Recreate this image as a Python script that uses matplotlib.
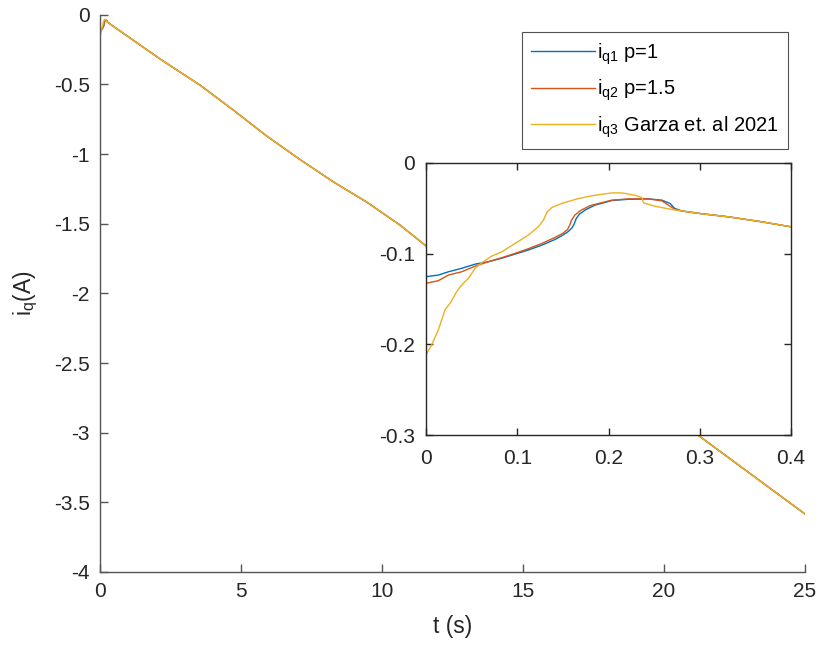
import matplotlib
matplotlib.use("Agg")
import matplotlib.pyplot as plt
import numpy as np

plt.rcParams['font.family'] = ['Liberation Sans', 'DejaVu Sans']
plt.rcParams['mathtext.fontset'] = 'custom'
plt.rcParams['mathtext.rm'] = 'Liberation Sans'
plt.rcParams['mathtext.it'] = 'Liberation Sans'

# ---- data: early transient (0 - 0.4 s), one per method ----
t_q1 = [0, 0.0135, 0.0245, 0.039, 0.054, 0.068, 0.083, 0.0976, 0.112, 0.127, 0.1415,
        0.150, 0.156, 0.160, 0.1625, 0.1645, 0.168, 0.175, 0.185, 0.2037, 0.222, 0.244,
        0.2585, 0.2676, 0.2724, 0.280, 0.300, 0.3316, 0.368, 0.400]
iq1 = [-0.1254, -0.1236, -0.120, -0.1162, -0.1115, -0.109, -0.105, -0.1005, -0.096,
       -0.0906, -0.0843, -0.0795, -0.0755, -0.0715, -0.0670, -0.0615, -0.0565, -0.0515,
       -0.0465, -0.0414, -0.0400, -0.0396, -0.0410, -0.0447, -0.0500, -0.0528, -0.0557,
       -0.0594, -0.0649, -0.0704]

t_q2 = [0, 0.0135, 0.0245, 0.039, 0.054, 0.068, 0.083, 0.0976, 0.112, 0.127, 0.1415,
        0.150, 0.155, 0.1575, 0.1595, 0.163, 0.170, 0.180, 0.2037, 0.222, 0.244, 0.2585,
        0.2658, 0.2731, 0.280, 0.300, 0.3316, 0.368, 0.400]
iq2 = [-0.1327, -0.1298, -0.1236, -0.120, -0.1137, -0.109, -0.1045, -0.0997, -0.0946,
       -0.0887, -0.0821, -0.0775, -0.0735, -0.0685, -0.0630, -0.0575, -0.0520, -0.0470,
       -0.041, -0.0396, -0.0396, -0.0418, -0.0466, -0.0513, -0.053, -0.0557, -0.0594,
       -0.0649, -0.0704]

t_q3 = [0, 0.0062, 0.0135, 0.0208, 0.0263, 0.0336, 0.039, 0.0464, 0.054, 0.061, 0.072,
        0.083, 0.0976, 0.112, 0.123, 0.1287, 0.1324, 0.138, 0.149, 0.167, 0.185, 0.2037,
        0.2146, 0.229, 0.2366, 0.2384, 0.251, 0.2695, 0.300, 0.3316, 0.368, 0.400]
iq3 = [-0.2116, -0.2006, -0.184, -0.162, -0.1547, -0.142, -0.1346, -0.1272, -0.1160,
       -0.110, -0.1027, -0.098, -0.0887, -0.0796, -0.0704, -0.063, -0.0545, -0.0490,
       -0.0445, -0.0392, -0.0356, -0.033, -0.033, -0.0356, -0.0381, -0.044, -0.0477,
       -0.0513, -0.0557, -0.0594, -0.0649, -0.0704]

# ---- data: long-term response (common to all three methods) ----
t_long = [2.2, 3.56, 4.74, 5.92, 7.11, 8.28, 9.47, 10.65, 11.53, 16.5, 21.25, 25.0]
iq_long = [-0.325, -0.505, -0.684, -0.870, -1.040, -1.199, -1.345, -1.510, -1.653,
           -2.35, -3.024, -3.584]

labels = [r'$\mathregular{i_{q1}}$ p=1', r'$\mathregular{i_{q2}}$ p=1.5',
          r'$\mathregular{i_{q3}}$ Garza et. al 2021']
colors = ['#0072BD', '#D95319', '#EDB120']

series = [(t_q1, iq1), (t_q2, iq2), (t_q3, iq3)]

fig = plt.figure(figsize=(8.21, 6.46), dpi=100)
ax = fig.add_axes([0.1212, 0.1146, 0.8593, 0.8626])

for (tt, yy), c, lab in zip(series, colors, labels):
    ax.plot(list(tt) + t_long, list(yy) + iq_long, color=c, lw=1.0, label=lab)

ax.set_xlim(0, 25)
ax.set_ylim(-4, 0)
ax.set_xticks(np.arange(0, 26, 5))
ax.set_yticks(np.arange(-4, 0.01, 0.5))
ax.set_yticklabels(['-4', '-3.5', '-3', '-2.5', '-2', '-1.5', '-1', '-0.5', '0'])
ax.spines['top'].set_visible(False)
ax.spines['right'].set_visible(False)
for s in ('left', 'bottom'):
    ax.spines[s].set_color('#555555')
    ax.spines[s].set_linewidth(1.0)
ax.tick_params(direction='in', length=6, width=1.0, color='#555555',
               labelsize=15, labelcolor='#262626', pad=7)
ax.set_xlabel('t (s)', fontsize=16.5, color='#262626', labelpad=10)
ax.set_ylabel(r'$\mathregular{i_q}$(A)', fontsize=16.5, color='#262626', labelpad=10)

leg = ax.legend(loc='upper right', bbox_to_anchor=(0.976, 0.969), borderaxespad=0,
                fontsize=14.5, frameon=True, fancybox=False, handlelength=3.2,
                handletextpad=0.1, labelspacing=0.55, borderpad=0.45)
leg.get_frame().set_edgecolor('#262626')
leg.get_frame().set_linewidth(0.8)

# ---- inset ----
axi = fig.add_axes([0.5189, 0.3266, 0.4446, 0.4211])
axi.set_facecolor('white')
for (tt, yy), c in zip(series, colors):
    axi.plot(tt, yy, color=c, lw=1.0)
axi.set_xlim(0, 0.4)
axi.set_ylim(-0.3, 0)
axi.set_xticks([0, 0.1, 0.2, 0.3, 0.4])
axi.set_xticklabels(['0', '0.1', '0.2', '0.3', '0.4'])
axi.set_yticks([-0.3, -0.2, -0.1, 0])
axi.set_yticklabels(['-0.3', '-0.2', '-0.1', '0'])
for s in axi.spines.values():
    s.set_color('#262626')
    s.set_linewidth(1.0)
axi.tick_params(direction='in', length=5, width=1.0, color='#262626',
                top=True, right=True, labelsize=15, labelcolor='#262626', pad=8)
axi.tick_params(axis='x', pad=10)

fig.savefig('out.png', dpi=100)
